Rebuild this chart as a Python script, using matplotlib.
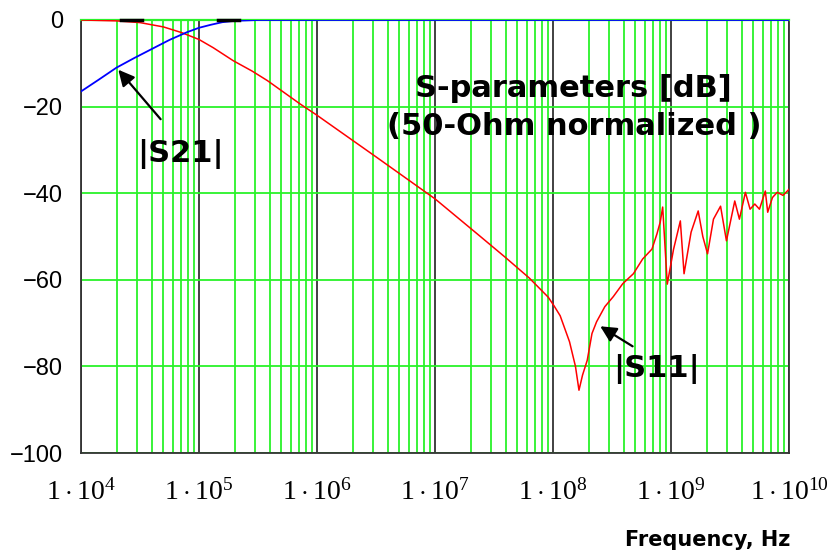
import numpy as np
import matplotlib
matplotlib.use("Agg")
import matplotlib.pyplot as plt
from matplotlib.ticker import LogLocator, NullFormatter, FixedLocator, FixedFormatter

# |S21| (Hz, dB)
freq_s21 = [1.0e4, 1.41e4, 2.0e4, 2.82e4, 3.98e4, 5.62e4, 7.94e4, 1.0e5,
            1.26e5, 1.58e5, 2.0e5, 3.16e5, 1.0e10]
s21_db = [-16.5, -13.8, -11.0, -8.8, -6.7, -4.6, -2.8, -1.8,
          -1.1, -0.5, -0.2, 0.0, 0.0]

# |S11| (Hz, dB)
freq_s11 = [1.0e4, 2.0e4, 3.16e4, 5.0e4, 7.1e4, 1.0e5, 1.32e5, 1.95e5, 2.82e5,
            3.8e5, 7.2e5, 1.0e6, 3.16e6, 1.0e7, 2.4e7, 3.9e7, 6.3e7, 9.1e7,
            1.02e8, 1.15e8, 1.38e8, 1.55e8, 1.66e8, 1.78e8, 1.95e8, 2.14e8,
            2.34e8, 2.75e8, 3.24e8, 3.9e8, 4.8e8, 5.75e8, 6.9e8, 7.6e8, 8.1e8,
            8.5e8, 9.3e8, 1.05e9, 1.2e9, 1.29e9, 1.48e9, 1.7e9, 1.86e9, 2.04e9,
            2.29e9, 2.63e9, 2.95e9, 3.47e9, 3.8e9, 4.27e9, 4.68e9, 5.13e9,
            5.62e9, 6.3e9, 6.6e9, 7.24e9, 7.94e9, 8.9e9, 1.0e10]
s11_db = [0.0, -0.2, -0.6, -1.6, -2.9, -4.5, -6.4, -9.4, -11.8,
          -14.0, -19.4, -22.0, -31.6, -41.3, -49.9, -54.7, -59.6, -64.0,
          -66.0, -68.3, -74.3, -80.0, -85.5, -82.0, -78.6, -72.4,
          -69.7, -66.2, -63.9, -60.9, -58.6, -55.2, -52.9, -49.4, -46.7,
          -43.2, -61.0, -53.0, -46.4, -58.6, -49.0, -44.1, -50.0, -54.0,
          -46.0, -43.0, -51.0, -41.8, -46.0, -39.8, -43.7, -42.5,
          -43.7, -39.5, -44.4, -41.0, -39.8, -40.5, -39.1]

# short black trace segments visible along 0 dB
freq_ref = [2.2e4, 3.3e4, np.nan, 1.45e5, 2.2e5]
ref_db = [0.0, 0.0, np.nan, 0.0, 0.0]

x_ticks = [1e4, 1e5, 1e6, 1e7, 1e8, 1e9, 1e10]
x_labels = [r"$1\cdot10^{%d}$" % k for k in range(4, 11)]
y_ticks = [0, -20, -40, -60, -80, -100]

plt.rcParams["mathtext.fontset"] = "custom"
plt.rcParams["mathtext.rm"] = "Liberation Serif"
plt.rcParams["mathtext.it"] = "Liberation Serif"

GREEN = "#2af22a"

fig = plt.figure(figsize=(8.29, 5.58), dpi=100)
ax = fig.add_axes([81 / 829, 1 - 453 / 558, (789 - 81) / 829, (453 - 20) / 558])

ax.set_xscale("log")
ax.set_xlim(1e4, 1e10)
ax.set_ylim(-100, 0)

ax.xaxis.set_major_locator(FixedLocator(x_ticks))
ax.xaxis.set_major_formatter(FixedFormatter(x_labels))
ax.xaxis.set_minor_locator(LogLocator(base=10, subs=np.arange(2, 10), numticks=100))
ax.xaxis.set_minor_formatter(NullFormatter())
ax.set_yticks(y_ticks)
ax.set_yticklabels(["0", "\u221220", "\u221240", "\u221260", "\u221280", "\u2212100"],
                   family="Liberation Sans", fontsize=17)
for lab in ax.get_xticklabels():
    lab.set_fontsize(20)
ax.tick_params(which="both", length=0)
ax.tick_params(axis="y", pad=13)
ax.tick_params(axis="x", pad=18)

ax.set_axisbelow(True)
ax.xaxis.grid(True, which="minor", color=GREEN, lw=1.3)
ax.xaxis.grid(True, which="major", color="#333333", lw=1.3)
ax.yaxis.grid(True, which="major", color=GREEN, lw=1.3)
for side in ["left", "bottom", "right"]:
    ax.spines[side].set_color("#333333")
    ax.spines[side].set_linewidth(1.3)
ax.spines["top"].set_color(GREEN)
ax.spines["top"].set_linewidth(1.6)

ax.plot(freq_s11, s11_db, color="red", lw=1.1, zorder=3)
ax.plot(freq_s21, s21_db, color="blue", lw=1.3, zorder=4)
ax.plot(freq_ref, ref_db, color="black", lw=2.5, zorder=5, clip_on=False)

bold = dict(fontsize=22, fontweight="bold", family="DejaVu Sans", color="black", zorder=6)
ax.text(0.696, -17.8, "S-parameters [dB]", transform=ax.get_yaxis_transform(),
        ha="center", va="baseline", **bold)
ax.text(0.696, -26.6, "(50-Ohm normalized )", transform=ax.get_yaxis_transform(),
        ha="center", va="baseline", **bold)
ax.text(6.9e4, -32.9, "|S21|", ha="center", va="baseline", **bold)
ax.text(7.6e8, -82.4, "|S11|", ha="center", va="baseline", **bold)

arrow = dict(arrowstyle="-|>", lw=1.6, color="black", mutation_scale=24)
ax.annotate("", xy=(2.0e4, -11.0), xytext=(4.9e4, -23.4), arrowprops=arrow, zorder=6)
ax.annotate("", xy=(2.4e8, -70.4), xytext=(4.95e8, -75.7), arrowprops=arrow, zorder=6)

fig.text(790 / 829, 1 - 546 / 558, "Frequency, Hz", ha="right", va="baseline",
         fontsize=15, fontweight="bold", family="DejaVu Sans")

fig.savefig("out.png", dpi=100)
